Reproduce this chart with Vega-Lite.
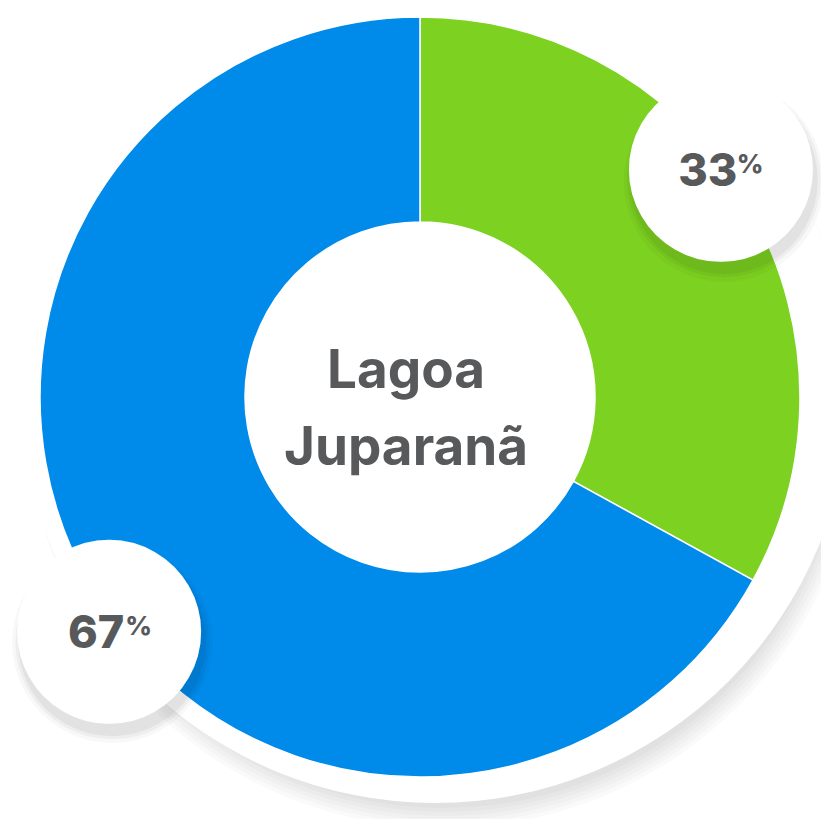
{
  "$schema": "https://vega.github.io/schema/vega-lite/v6.json",
  "width": 802,
  "height": 794,
  "autosize": {"type": "none"},
  "padding": {"left": 19, "top": 0, "right": 0, "bottom": 25},
  "background": "white",
  "config": {"view": {"stroke": null}},
  "datasets": {
    "shares": [
      {"seg": "A", "value": 33},
      {"seg": "B", "value": 67}
    ],
    "one": [{"k": 1}],
    "center": [{"titulo": "Lagoa\nJuparanã"}]
  },
  "layer": [
    {"data": {"name": "one"}, "mark": {"type": "arc", "x": {"expr": "width/2+24"}, "y": {"expr": "height/2+14"}, "theta": 6.2832, "radius": 397, "fill": "black", "opacity": 0.018}, "encoding": {}},
    {"data": {"name": "one"}, "mark": {"type": "arc", "x": {"expr": "width/2+24"}, "y": {"expr": "height/2+14"}, "theta": 6.2832, "radius": 401, "fill": "black", "opacity": 0.018}, "encoding": {}},
    {"data": {"name": "one"}, "mark": {"type": "arc", "x": {"expr": "width/2+24"}, "y": {"expr": "height/2+14"}, "theta": 6.2832, "radius": 405, "fill": "black", "opacity": 0.018}, "encoding": {}},
    {"data": {"name": "one"}, "mark": {"type": "arc", "x": {"expr": "width/2+24"}, "y": {"expr": "height/2+14"}, "theta": 6.2832, "radius": 409, "fill": "black", "opacity": 0.018}, "encoding": {}},
    {"data": {"name": "one"}, "mark": {"type": "arc", "x": {"expr": "width/2+24"}, "y": {"expr": "height/2+14"}, "theta": 6.2832, "radius": 413, "fill": "black", "opacity": 0.018}, "encoding": {}},
    {"data": {"name": "one"}, "mark": {"type": "arc", "x": {"expr": "width/2+24"}, "y": {"expr": "height/2+14"}, "theta": 6.2832, "radius": 417, "fill": "black", "opacity": 0.018}, "encoding": {}},
    {"data": {"name": "one"}, "mark": {"type": "arc", "x": {"expr": "width/2+15"}, "y": {"expr": "height/2-9"}, "theta": 6.2832, "radius": 415, "fill": "white"}, "encoding": {}},
    {
      "data": {"name": "shares"},
      "mark": {"type": "arc", "radius": 380, "radius2": 175, "stroke": "white", "strokeWidth": 1.5},
      "encoding": {
        "theta": {"field": "value", "type": "quantitative", "stack": true},
        "color": {"field": "seg", "type": "nominal", "scale": {"domain": ["A", "B"], "range": ["#7DD121", "#008AEA"]}, "legend": null}
      }
    },
    {
      "data": {"name": "shares"},
      "mark": {"type": "text", "text": "●", "font": "DejaVu Sans", "fontSize": 246, "radius": 383, "thetaOffset": -0.112, "align": "center", "baseline": "middle", "dx": -2, "dy": 4, "fill": "black", "opacity": 0.045},
      "encoding": {"theta": {"field": "value", "type": "quantitative", "stack": true}, "detail": {"field": "seg"}}
    },
    {
      "data": {"name": "shares"},
      "mark": {"type": "text", "text": "●", "font": "DejaVu Sans", "fontSize": 254, "radius": 383, "thetaOffset": -0.112, "align": "center", "baseline": "middle", "dx": -2, "dy": 4, "fill": "black", "opacity": 0.035},
      "encoding": {"theta": {"field": "value", "type": "quantitative", "stack": true}, "detail": {"field": "seg"}}
    },
    {
      "data": {"name": "shares"},
      "mark": {"type": "text", "text": "●", "font": "DejaVu Sans", "fontSize": 262, "radius": 383, "thetaOffset": -0.112, "align": "center", "baseline": "middle", "dx": -2, "dy": 4, "fill": "black", "opacity": 0.025},
      "encoding": {"theta": {"field": "value", "type": "quantitative", "stack": true}, "detail": {"field": "seg"}}
    },
    {
      "data": {"name": "shares"},
      "mark": {"type": "text", "text": "●", "font": "DejaVu Sans", "fontSize": 241, "radius": 383, "thetaOffset": -0.112, "align": "center", "baseline": "middle", "dx": -5, "dy": -6, "fill": "white"},
      "encoding": {"theta": {"field": "value", "type": "quantitative", "stack": true}, "detail": {"field": "seg"}}
    },
    {
      "data": {"name": "shares"},
      "mark": {"type": "text", "font": "Inter", "fontWeight": 800, "fontSize": 45, "radius": 383, "thetaOffset": -0.112, "align": "center", "baseline": "alphabetic", "dx": -18, "dy": 20, "fill": "#58595B"},
      "encoding": {"theta": {"field": "value", "type": "quantitative", "stack": true}, "detail": {"field": "seg"}, "text": {"field": "value", "type": "quantitative", "format": "d"}}
    },
    {
      "data": {"name": "shares"},
      "mark": {"type": "text", "text": "%", "font": "Inter", "fontWeight": 800, "fontSize": 26, "radius": 383, "thetaOffset": -0.112, "align": "left", "baseline": "alphabetic", "dx": 11, "dy": 7, "fill": "#58595B"},
      "encoding": {"theta": {"field": "value", "type": "quantitative", "stack": true}, "detail": {"field": "seg"}}
    },
    {
      "data": {"name": "center"},
      "mark": {"type": "text", "font": "Inter", "fontWeight": "bold", "fontSize": 53, "lineBreak": "\n", "lineHeight": 77, "align": "center", "baseline": "alphabetic", "dx": -14, "dy": -9, "fill": "#58595B"},
      "encoding": {"text": {"field": "titulo", "type": "nominal"}}
    }
  ]
}
